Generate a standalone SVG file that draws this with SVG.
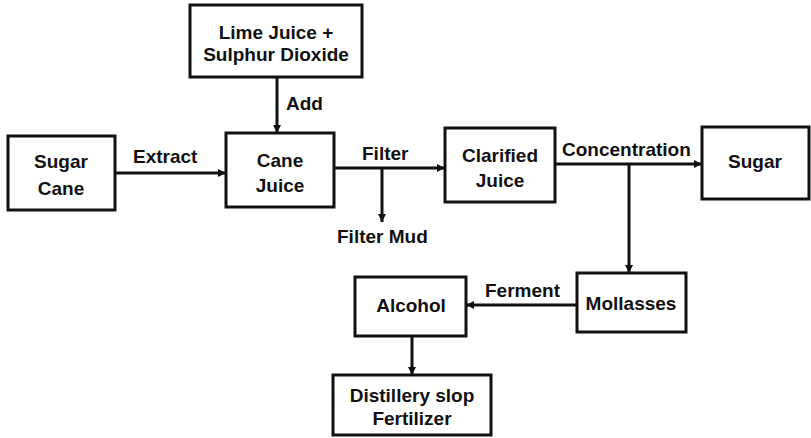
<svg xmlns="http://www.w3.org/2000/svg" width="811" height="438" viewBox="0 0 811 438">
<defs>
<marker id="ah" viewBox="0 0 10 10" refX="10" refY="5" markerWidth="10" markerHeight="8" markerUnits="userSpaceOnUse" orient="auto">
<path d="M0,0 L10,5 L0,10 z" fill="#111"/>
</marker>
<style>
.box{fill:#fff;stroke:#111;stroke-width:3}
.t{font-family:"Liberation Sans",Arial,Helvetica,sans-serif;font-weight:bold;font-size:19px;fill:#111}
.c{text-anchor:middle}
.ln{fill:none;stroke:#111;stroke-width:3}
</style>
</defs>
<rect width="811" height="438" fill="#fff"/>
<g id="lime">
<rect class="box" x="190" y="5" width="172" height="72"/>
<text class="t c" x="276" y="39">Lime Juice +</text>
<text class="t c" x="276" y="61">Sulphur Dioxide</text>
</g>
<g id="sugarcane">
<rect class="box" x="8" y="136" width="107" height="74"/>
<text class="t c" x="61" y="168">Sugar</text>
<text class="t c" x="61" y="195">Cane</text>
</g>
<g id="canejuice">
<rect class="box" x="226" y="133" width="108" height="74"/>
<text class="t c" x="280" y="167">Cane</text>
<text class="t c" x="280" y="192">Juice</text>
</g>
<g id="clarified">
<rect class="box" x="445" y="128" width="110" height="74"/>
<text class="t c" x="500" y="162">Clarified</text>
<text class="t c" x="500" y="187">Juice</text>
</g>
<g id="sugar">
<rect class="box" x="702" y="127" width="107" height="72"/>
<text class="t c" x="755" y="168">Sugar</text>
</g>
<g id="mollasses">
<rect class="box" x="577" y="273" width="109" height="59"/>
<text class="t c" x="631" y="310">Mollasses</text>
</g>
<g id="alcohol">
<rect class="box" x="355" y="277" width="111" height="59"/>
<text class="t c" x="411" y="312">Alcohol</text>
</g>
<g id="distillery">
<rect class="box" x="333" y="375" width="158" height="60"/>
<text class="t c" x="412" y="402">Distillery slop</text>
<text class="t c" x="412" y="425">Fertilizer</text>
</g>
<g id="connectors">
<line class="ln" x1="277" y1="77" x2="277" y2="133" marker-end="url(#ah)"/>
<text class="t" x="286" y="110">Add</text>
<line class="ln" x1="115" y1="173" x2="226" y2="173" marker-end="url(#ah)"/>
<text class="t" x="133" y="163">Extract</text>
<line class="ln" x1="334" y1="168" x2="445" y2="168" marker-end="url(#ah)"/>
<text class="t" x="362" y="160">Filter</text>
<line class="ln" x1="382" y1="168" x2="382" y2="222" marker-end="url(#ah)"/>
<text class="t" x="337" y="243">Filter Mud</text>
<line class="ln" x1="555" y1="164" x2="702" y2="164" marker-end="url(#ah)"/>
<text class="t" x="562" y="156">Concentration</text>
<line class="ln" x1="629" y1="164" x2="629" y2="273" marker-end="url(#ah)"/>
<line class="ln" x1="577" y1="305" x2="466" y2="305" marker-end="url(#ah)"/>
<text class="t" x="485" y="297">Ferment</text>
<line class="ln" x1="412" y1="336" x2="412" y2="375" marker-end="url(#ah)"/>
</g>
</svg>
